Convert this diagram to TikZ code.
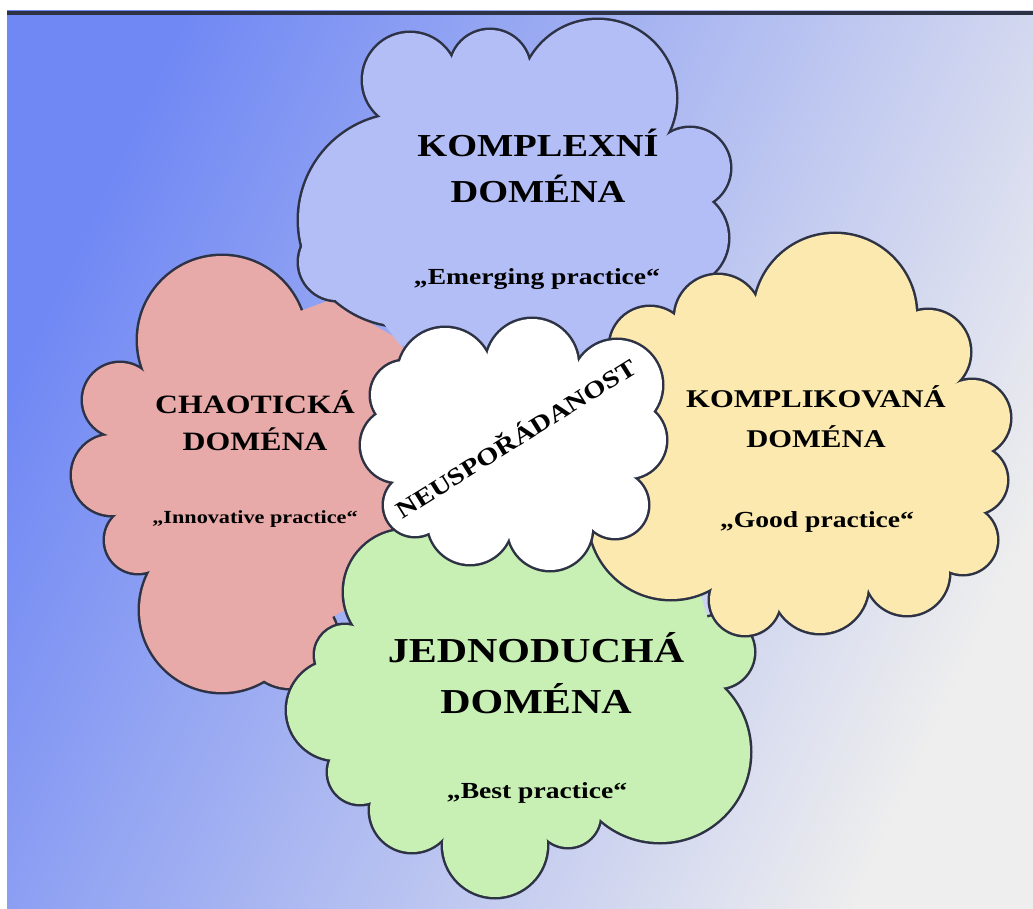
\documentclass[tikz,border=0pt]{standalone}
\usepackage{fontspec}
\setmainfont{Liberation Serif}
\newfontfamily\domfont[FakeStretch=1.2]{Liberation Serif}
\usepackage{tikz}
\definecolor{xink}{HTML}{2D3245}
\definecolor{xsky}{HTML}{7088F4}
\definecolor{xhaze}{HTML}{B0BCF2}
\definecolor{xfog}{HTML}{EEEEEE}
\definecolor{xlilac}{HTML}{B3BEF6}
\definecolor{xpink}{HTML}{E8A9A9}
\definecolor{xcream}{HTML}{FBE9AF}
\definecolor{xmint}{HTML}{C8F0B5}
\tikzset{
  puffedge/.style={draw=xink, line width=5pt},
  heading/.style 2 args={font=\domfont\bfseries\fontsize{#1}{#2}\selectfont, align=center, anchor=base, inner sep=0pt},
  motto/.style={font=\domfont\bfseries\fontsize{#1}{#1}\selectfont, anchor=base, inner sep=0pt},
}

\begin{document}
\begin{tikzpicture}[x=1pt, y=-1pt]
	\useasboundingbox (0,0) rectangle (1033,909);
	\fill[white] (0,0) rectangle (1033,909);
	\shade[top color=xsky, middle color=xhaze, bottom color=xfog, shading angle=65] (7,11) rectangle (1033,909);
	\draw[xink, line width=4pt] (7,13) -- (1033,13);

	% chaotic domain
	\def\chaospuffs{222/340/84, 120/400/37, 112/475/40, 138/540/33, 222/610/82, 290/640/48}
	\foreach \cx/\cy/\cr in \chaospuffs {\draw[puffedge] (\cx,\cy) circle (\cr);}
	\foreach \cx/\cy/\cr in \chaospuffs {\fill[xpink] (\cx,\cy) circle (\cr);}
	\fill[xpink] (222,340) -- (120,400) -- (112,475) -- (138,540) -- (222,610) -- (290,640)
		-- (400,580) -- (440,450) -- (400,340) -- (330,300) -- cycle;

	% complex domain
	\def\complexpuffs{410/80/47, 490/70/40, 598/98/78, 690/168/40, 680/238/48, 405/220/106, 337/262/38}
	\foreach \cx/\cy/\cr in \complexpuffs {\draw[puffedge] (\cx,\cy) circle (\cr);}
	\foreach \cx/\cy/\cr in \complexpuffs {\fill[xlilac] (\cx,\cy) circle (\cr);}
	\fill[xlilac] (337,262) -- (405,220) -- (410,80) -- (490,70) -- (598,98) -- (690,168) -- (680,238)
		-- (705,300) -- (620,345) -- (480,360) -- (400,345) -- cycle;

	% simple domain
	\def\simplepuffs{406/592/62, 345/655/30, 337/710/50, 360/772/32, 412/810/42, 495/845/52,
		568/815/32, 660/752/90, 718/652/36}
	\foreach \cx/\cy/\cr in \simplepuffs {\draw[puffedge] (\cx,\cy) circle (\cr);}
	\foreach \cx/\cy/\cr in \simplepuffs {\fill[xmint] (\cx,\cy) circle (\cr);}
	\fill[xmint] (406,592) -- (345,655) -- (337,710) -- (360,772) -- (412,810) -- (495,845) -- (568,815)
		-- (660,752) -- (718,652) -- (690,560) -- (560,540) -- (440,520) -- cycle;

	% complicated domain
	\def\complicatedpuffs{650/347/40, 718/318/43, 835/315/81, 928/352/42, 972/418/38, 973/480/34,
		963/540/34, 907/573/42, 820/585/48, 745/600/35, 671/517/82}
	\foreach \cx/\cy/\cr in \complicatedpuffs {\draw[puffedge] (\cx,\cy) circle (\cr);}
	\foreach \cx/\cy/\cr in \complicatedpuffs {\fill[xcream] (\cx,\cy) circle (\cr);}
	\fill[xcream] (650,347) -- (718,318) -- (835,315) -- (928,352) -- (972,418) -- (973,480) -- (963,540)
		-- (907,573) -- (820,585) -- (745,600) -- (671,517) -- (600,450) -- cycle;

	% disorder
	\def\disorderpuffs{445/375/47, 532/365/46, 617/385/45, 628/440/38, 615/505/33, 550/528/42,
		470/522/42, 415/505/31, 398/445/37, 405/395/34}
	\foreach \cx/\cy/\cr in \disorderpuffs {\draw[puffedge] (\cx,\cy) circle (\cr);}
	\foreach \cx/\cy/\cr in \disorderpuffs {\fill[white] (\cx,\cy) circle (\cr);}
	\fill[white] (445,375) -- (532,365) -- (617,385) -- (628,440) -- (615,505) -- (550,528)
		-- (470,522) -- (415,505) -- (398,445) -- (405,395) -- cycle;

	\node[heading={32}{46}] (complexname) at (538,203) {KOMPLEXNÍ\\DOMÉNA};
	\node[motto={23}] (complexmotto) at (537,285) {„Emerging practice“};
	\node[heading={26.5}{37}] (chaosname) at (255,450) {CHAOTICKÁ\\DOMÉNA};
	\node[motto={18.5}] (chaosmotto) at (255,523) {„Innovative practice“};
	\node[heading={25.5}{40}] (complicatedname) at (816,447) {KOMPLIKOVANÁ\\DOMÉNA};
	\node[motto={23}] (complicatedmotto) at (817,527) {„Good practice“};
	\node[heading={35}{51}] (simplename) at (536,713) {JEDNODUCHÁ\\DOMÉNA};
	\node[motto={23}] (simplemotto) at (537,798) {„Best practice“};
	\node[motto={24}, anchor=center, rotate=32] (disorder) at (515,437) {NEUSPOŘÁDANOST};
\end{tikzpicture}
\end{document}
